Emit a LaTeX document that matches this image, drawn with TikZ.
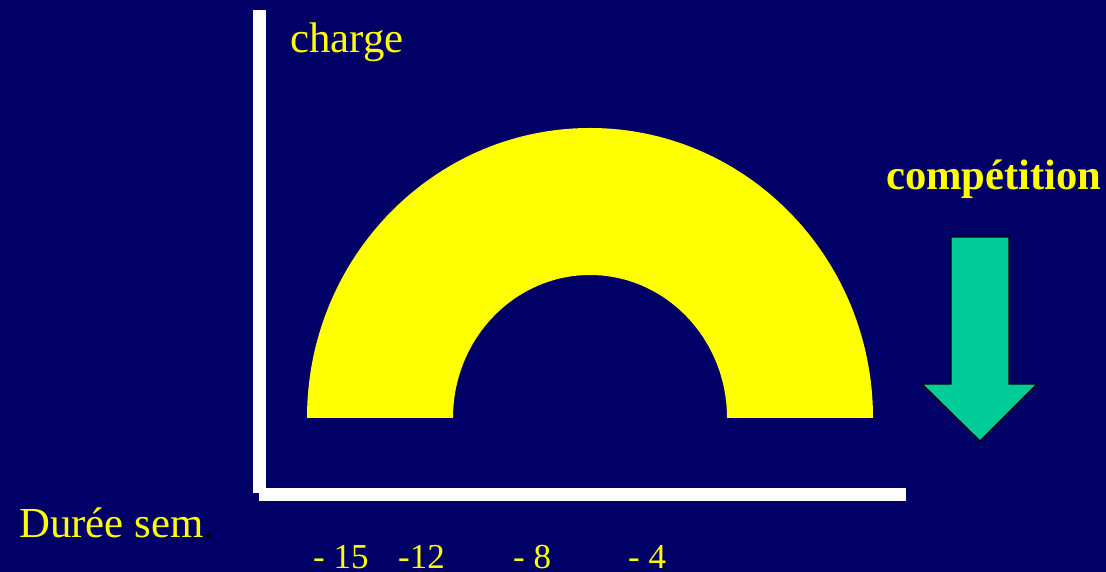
\documentclass[tikz,border=0pt]{standalone}
\usepackage{fontspec}
\setmainfont{Liberation Serif}
\definecolor{bgblue}{HTML}{000066}
\definecolor{archyellow}{HTML}{FFFF00}
\definecolor{arrowgreen}{HTML}{00CC99}
\tikzset{
  lbl/.style={text=archyellow, inner sep=0pt, anchor=base west, font=\fontsize{42.8}{48}\selectfont},
  num/.style={text=archyellow, inner sep=0pt, anchor=base west, font=\fontsize{35}{40}\selectfont},
  axisbar/.style={fill=white, draw=none},
}
\begin{document}
\begin{tikzpicture}[x=1pt,y=1pt]
  \fill[bgblue] (0,0) rectangle (1106,572);
  \useasboundingbox (0,0) rectangle (1106,572);
  % axes
  \fill[axisbar] (253,79) rectangle (266,562);
  \fill[axisbar] (259,71) rectangle (906,84);
  % arch
  \fill[archyellow] (307,154) arc[start angle=180, end angle=0, x radius=283pt, y radius=290pt]
     -- (727,154) arc[start angle=0, end angle=180, x radius=137pt, y radius=143pt] -- cycle;
  % arrow
  \draw[fill=arrowgreen, draw=black, line width=1.2pt, line join=miter]
     (951,335) -- (1009,335) -- (1009,188) -- (1037,188) -- (980,131) -- (922,188) -- (951,188) -- cycle;
  % texts
  \node[lbl] (charge) at (290,519) {charge};
  \node[lbl, font=\fontsize{42.6}{48}\selectfont\bfseries] (comp) at (886,382) {compétition};
  \node[lbl] (duree) at (19,34) {Durée sem\textcolor{black}{.}};
  \node[num] (n15) at (313,3) {- 15};
  \node[num] (n12) at (398,3) {-12};
  \node[num] (n8) at (513,3) {- 8};
  \node[num] (n4) at (628,3) {- 4};
\end{tikzpicture}
\end{document}
